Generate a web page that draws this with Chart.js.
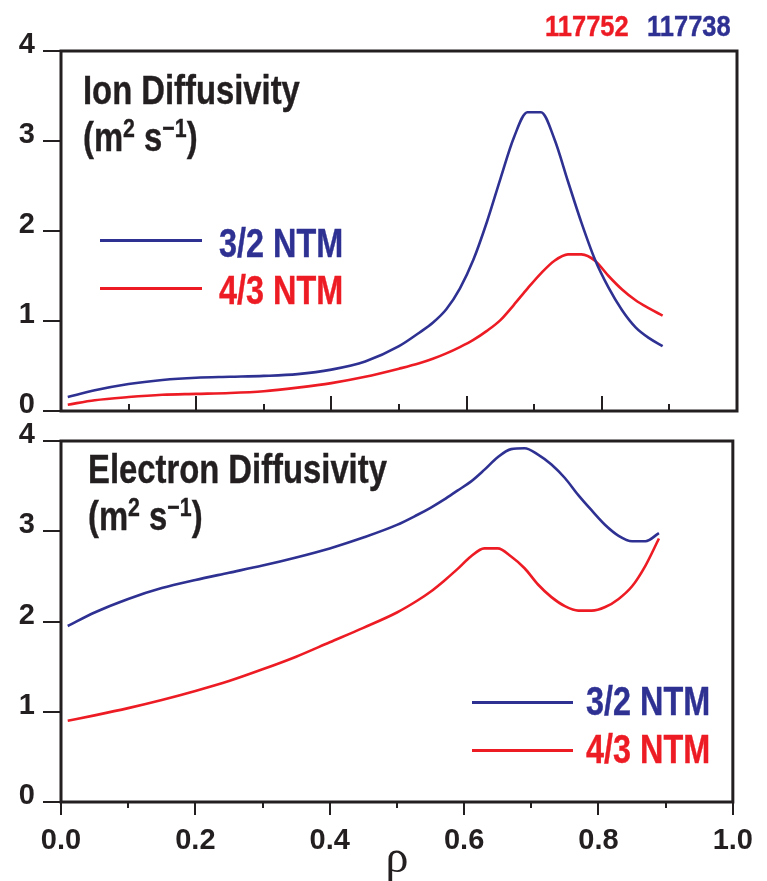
<!DOCTYPE html>
<html><head><meta charset="utf-8">
<script src="https://cdn.jsdelivr.net/npm/chart.js@4.4.0/dist/chart.umd.min.js"></script>
<style>
html,body{margin:0;padding:0;background:#fff;}
#wrap{position:relative;width:767px;height:881px;overflow:hidden;font-family:"Liberation Sans",Arial,sans-serif;font-weight:bold;color:#231f20;}
canvas{position:absolute;left:0;top:0;}
.t{position:absolute;white-space:nowrap;line-height:1;transform-origin:0 50%;-webkit-text-stroke:0.4px currentColor;}
.n{transform:scaleX(0.85);}
.h{transform:scaleX(0.82);}
.g{transform:scaleX(0.81);}
.sup{font-size:26px;position:relative;top:-14px;}
.ln{position:absolute;height:3px;}
</style></head><body>
<div id="wrap">
<canvas id="c1" width="767" height="881"></canvas>
<canvas id="c2" width="767" height="881"></canvas>

<div class="t n" style="left:545px;top:11px;font-size:30px;color:#ed1c24">117752</div>
<div class="t n" style="left:647px;top:11px;font-size:30px;color:#2e3192">117738</div>

<div class="t h" style="left:83px;top:70px;font-size:40px;">Ion Diffusivity</div>
<div class="t h" style="left:83px;top:117px;font-size:40px;">(m<span class="sup">2</span> s<span class="sup">−1</span>)</div>

<div class="ln" style="left:100px;top:239px;width:102px;background:#2e3192"></div>
<div class="t g" style="left:219px;top:223px;font-size:40px;color:#2e3192">3/2 NTM</div>
<div class="ln" style="left:100px;top:287px;width:102px;background:#ed1c24"></div>
<div class="t g" style="left:219px;top:270px;font-size:40px;color:#ed1c24">4/3 NTM</div>

<div class="t h" style="left:88px;top:449px;font-size:40px;">Electron Diffusivity</div>
<div class="t h" style="left:88px;top:496px;font-size:40px;">(m<span class="sup">2</span> s<span class="sup">−1</span>)</div>

<div class="ln" style="left:472px;top:701px;width:101px;background:#2e3192"></div>
<div class="t g" style="left:586px;top:681px;font-size:40px;color:#2e3192">3/2 NTM</div>
<div class="ln" style="left:472px;top:749px;width:101px;background:#ed1c24"></div>
<div class="t g" style="left:586px;top:729px;font-size:40px;color:#ed1c24">4/3 NTM</div>
</div>
<script>
// ---- data ----
const rho = [0.01,0.05,0.10,0.15,0.20,0.25,0.30,0.35,0.40,0.45,0.50,0.53,0.55,0.57,0.59,0.61,0.63,0.65,0.67,0.69,0.71,0.73,0.75,0.77,0.79,0.81,0.83,0.85,0.87,0.89];
const ion32 = [0.155,0.23,0.30,0.345,0.37,0.38,0.39,0.41,0.46,0.55,0.72,0.87,0.98,1.13,1.36,1.68,2.10,2.58,3.04,3.32,3.32,3.02,2.55,2.09,1.68,1.37,1.12,0.93,0.81,0.72];
const ion43 = [0.07,0.12,0.155,0.18,0.19,0.20,0.22,0.26,0.31,0.38,0.47,0.53,0.58,0.64,0.71,0.79,0.89,1.01,1.18,1.36,1.53,1.67,1.74,1.74,1.67,1.50,1.35,1.23,1.14,1.06];
const ele32 = [1.95,2.10,2.25,2.37,2.46,2.54,2.62,2.71,2.81,2.93,3.07,3.18,3.26,3.35,3.45,3.55,3.68,3.82,3.91,3.92,3.85,3.74,3.59,3.40,3.23,3.07,2.95,2.89,2.89,2.98];
const ele43 = [0.90,0.96,1.04,1.13,1.23,1.34,1.47,1.61,1.77,1.93,2.10,2.23,2.33,2.45,2.58,2.72,2.81,2.81,2.72,2.59,2.41,2.27,2.17,2.12,2.12,2.16,2.25,2.39,2.62,2.92];
const seriesNames = ['3/2 NTM','4/3 NTM'];
const xTickValues = [0,0.2,0.4,0.6,0.8,1.0];
const xTickLabels = ['0.0','0.2','0.4','0.6','0.8','1.0'];
const xMinorValues = [0.1,0.3,0.5,0.7,0.9];
const yTickLabels = ['0','1','2','3','4'];

const INK = '#231f20', BLUE = '#2e3192', RED = '#ed1c24';
const FONT = '"Liberation Sans",Arial,sans-serif';

function pts(xs, ys){ return xs.map((x,i)=>({x:x, y:ys[i]})); }
function ds(label, xs, ys, color){
  return {label, data: pts(xs,ys), borderColor: color, borderWidth: 2.6, pointRadius: 0,
          fill:false, cubicInterpolationMode:'monotone'};
}

function framePlugin(inward){
  return {
    id:'frame',
    afterDraw(chart){
      const {ctx, chartArea:a, scales:{x, y}} = chart;
      ctx.save();
      ctx.strokeStyle = INK;
      ctx.lineWidth = 2;
      for (let v=0; v<=4; v++){
        const py = Math.round(y.getPixelForValue(v));
        ctx.beginPath(); ctx.moveTo(a.left-18, py); ctx.lineTo(a.left, py); ctx.stroke();
      }
      const drawTick = (v, len) => {
        const px = Math.round(x.getPixelForValue(v));
        ctx.beginPath();
        if (inward){ ctx.moveTo(px, a.bottom); ctx.lineTo(px, a.bottom-len); }
        else { ctx.moveTo(px, a.bottom); ctx.lineTo(px, a.bottom+len); }
        ctx.stroke();
      };
      xTickValues.forEach(v => drawTick(v, inward ? 15 : 13));
      xMinorValues.forEach(v => drawTick(v, inward ? 7 : 6));
      ctx.lineWidth = 3;
      ctx.strokeRect(a.left, a.top, a.right-a.left, a.bottom-a.top);
      ctx.restore();
    }
  };
}

function makeChart(id, d1, d2, top, bottomPad, bottomPanel){
  return new Chart(document.getElementById(id), {
    type:'line',
    data:{ datasets:[ ds(seriesNames[0], rho, d1, BLUE), ds(seriesNames[1], rho, d2, RED) ] },
    options:{
      responsive:false, animation:false, devicePixelRatio:1,
      layout:{ padding:{ left:0, right:30, top:top, bottom:bottomPad } },
      plugins:{ legend:{display:false}, tooltip:{enabled:false} },
      scales:{
        x:{ type:'linear', min:0, max:1,
            grid:{display:false}, border:{display:false},
            afterBuildTicks: s => { s.ticks = xTickValues.map(v=>({value:v})); },
            ticks:{ display: bottomPanel, autoSkip:false, maxRotation:0, padding:14,
                    color:INK, font:{family:FONT, size:29, weight:'bold'},
                    callback:(v)=>{ const i = xTickValues.findIndex(t=>Math.abs(t-v)<1e-6); return i>=0 ? xTickLabels[i] : ''; } },
            title:{ display: bottomPanel, text:'ρ', color:INK, padding:0,
                    font:{family:'"Liberation Serif","DejaVu Serif",serif', size:46, weight:'normal', lineHeight:0.9} },
            afterFit: s => { s.height = bottomPanel ? 79 : 0; }
        },
        y:{ type:'linear', min:0, max:4,
            grid:{display:false}, border:{display:false},
            ticks:{ stepSize:1, padding:18, labelOffset:-6, color:INK,
                    font:{family:FONT, size:29, weight:'bold'},
                    callback:(v)=> yTickLabels[Math.round(v)] },
            afterFit: s => { s.width = 61; }
        }
      }
    },
    plugins:[framePlugin(!bottomPanel)]
  });
}

makeChart('c1', ion32, ion43, 51, 470, false);
makeChart('c2', ele32, ele43, 441, 0, true);
</script>
</body></html>
